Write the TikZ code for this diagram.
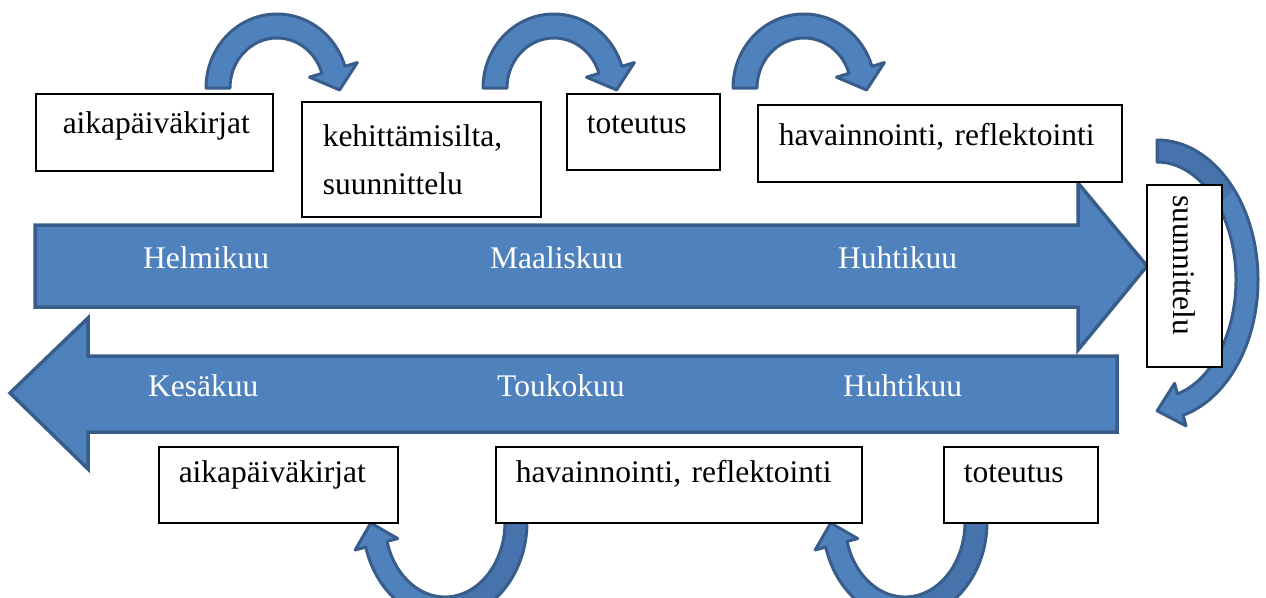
\documentclass[tikz,border=0pt]{standalone}
\usepackage{fontspec}
\setmainfont{Liberation Serif}
\usetikzlibrary{calc}

\definecolor{arrowblue}{HTML}{4F81BD}
\definecolor{arrowedge}{HTML}{385D8A}
\definecolor{arrowdark}{HTML}{4673AB}

\newcommand{\boxfont}{\fontsize{31.5pt}{48pt}\selectfont\frenchspacing\hyphenpenalty=10000\exhyphenpenalty=10000}

% Curved block arrow along an elliptical band, running clockwise.
% #1 centre, #2/#3 outer x/y radius, #4 band width, #5 start angle,
% #6 end angle, #7 head overhang, #8 head length, #9 end of the darker part
\newcommand{\bentarrow}[9]{%
  \pgfmathsetmacro\baOx{#2}\pgfmathsetmacro\baOy{#3}%
  \pgfmathsetmacro\baIx{#2-#4}\pgfmathsetmacro\baIy{#3-#4}%
  \pgfmathsetmacro\baMx{#2-#4/2}\pgfmathsetmacro\baMy{#3-#4/2}%
  \pgfmathsetmacro\baWx{#2+#7}\pgfmathsetmacro\baWy{#3+#7}%
  \pgfmathsetmacro\baVx{#2-#4-#7}\pgfmathsetmacro\baVy{#3-#4-#7}%
  \coordinate (ba-c) at #1;
  \coordinate (ba-s) at ($(ba-c)+(#5:\baOx\space and \baOy)$);
  \coordinate (ba-eo) at ($(ba-c)+(#6:\baOx\space and \baOy)$);
  \coordinate (ba-ei) at ($(ba-c)+(#6:\baIx\space and \baIy)$);
  \coordinate (ba-em) at ($(ba-c)+(#6:\baMx\space and \baMy)$);
  \coordinate (ba-wo) at ($(ba-c)+(#6:\baWx\space and \baWy)$);
  \coordinate (ba-wi) at ($(ba-c)+(#6:\baVx\space and \baVy)$);
  \coordinate (ba-tip) at ($(ba-em)!#8pt!-90:(ba-eo)$);
  \coordinate (ba-di) at ($(ba-c)+(#9:\baIx\space and \baIy)$);
  \path[save path=\baPath] (ba-s)
    arc[start angle=#5, end angle=#6, x radius=\baOx, y radius=\baOy]
    -- (ba-wo) -- (ba-tip) -- (ba-wi) -- (ba-ei)
    arc[start angle=#6, end angle=#5, x radius=\baIx, y radius=\baIy]
    -- cycle;
  \fill[arrowblue, use path=\baPath];
  \fill[arrowdark] (ba-s)
    arc[start angle=#5, end angle=#9, x radius=\baOx, y radius=\baOy]
    -- (ba-di)
    arc[start angle=#9, end angle=#5, x radius=\baIx, y radius=\baIy]
    -- cycle;
  \draw[arrowedge, line width=3pt, line join=round, use path=\baPath];
}

\tikzset{
  bigarrow/.style={fill=arrowblue, draw=arrowedge, line width=3.5pt, line join=miter},
  textbox/.style={draw=black, line width=1.5pt, fill=white, rectangle,
    anchor=north west, align=left, font=\boxfont, inner ysep=0pt},
  month/.style={text=white, font=\boxfont, anchor=base west, inner sep=0pt}
}

\begin{document}
\begin{tikzpicture}[x=1pt, y=-1pt]
\useasboundingbox (0,0) rectangle (1266,597);
\clip (0,0) rectangle (1266,597);
\fill[white] (0,0) rectangle (1266,597);

% the two month bands
\filldraw[bigarrow] (35,225) -- (1078,225) -- (1078,183) -- (1147,266)
  -- (1078,350) -- (1078,307) -- (35,307) -- cycle;
\filldraw[bigarrow] (1117,356) -- (88,356) -- (88,318) -- (10,393)
  -- (88,469) -- (88,432) -- (1117,432) -- cycle;

\node[month] (feb) at (143,268) {Helmikuu};
\node[month] (mar) at (490,268) {Maaliskuu};
\node[month] (apr) at (838,268) {Huhtikuu};
\node[month] (jun) at (148,396) {Kesäkuu};
\node[month] (may) at (497,396) {Toukokuu};
\node[month] (apr2) at (843,396) {Huhtikuu};

% curved arrows between the steps
\bentarrow{(277,88)}{71}{74}{24}{180}{343}{13}{21}{180}
\bentarrow{(554,88)}{71}{74}{24}{180}{343}{13}{21}{180}
\bentarrow{(804,88)}{71}{74}{24}{180}{343}{13}{21}{180}
\bentarrow{(1157,280)}{101}{140}{22}{270}{435}{11}{24}{320}
\bentarrow{(445,522)}{82}{97}{22}{0}{165}{11}{22}{95}
\bentarrow{(905,522)}{82}{97}{22}{0}{165}{11}{22}{95}

% upper row of steps
\node[textbox, inner xsep=27pt, text width=183pt, text height=40pt, text depth=37pt]
  (t1) at (35,93) {aikapäiväkirjat};
\node[textbox, inner xsep=21pt, text width=197pt, text height=45pt, text depth=70pt]
  (t2) at (301,101) {kehittämisilta,\\suunnittelu};
\node[textbox, inner xsep=20pt, text width=113pt, text height=40pt, text depth=36pt]
  (t3) at (566,93) {toteutus};
\node[textbox, inner xsep=21pt, text width=322pt, text height=41pt, text depth=36pt]
  (t4) at (757,104) {havainnointi, reflektointi};

% turning point
\node[draw=black, line width=1.5pt, fill=white, rectangle, rotate=-90,
  font=\boxfont, align=left, text width=162pt, inner xsep=10pt,
  minimum height=75pt] (turn) at (1184.5,276) {suunnittelu};

% lower row of steps
\node[textbox, inner xsep=20pt, text width=199pt, text height=36pt, text depth=40pt]
  (b1) at (158,446) {aikapäiväkirjat};
\node[textbox, inner xsep=20pt, text width=326pt, text height=36pt, text depth=40pt]
  (b2) at (495,446) {havainnointi, reflektointi};
\node[textbox, inner xsep=20pt, text width=114pt, text height=36pt, text depth=40pt]
  (b3) at (943,446) {toteutus};
\end{tikzpicture}
\end{document}
